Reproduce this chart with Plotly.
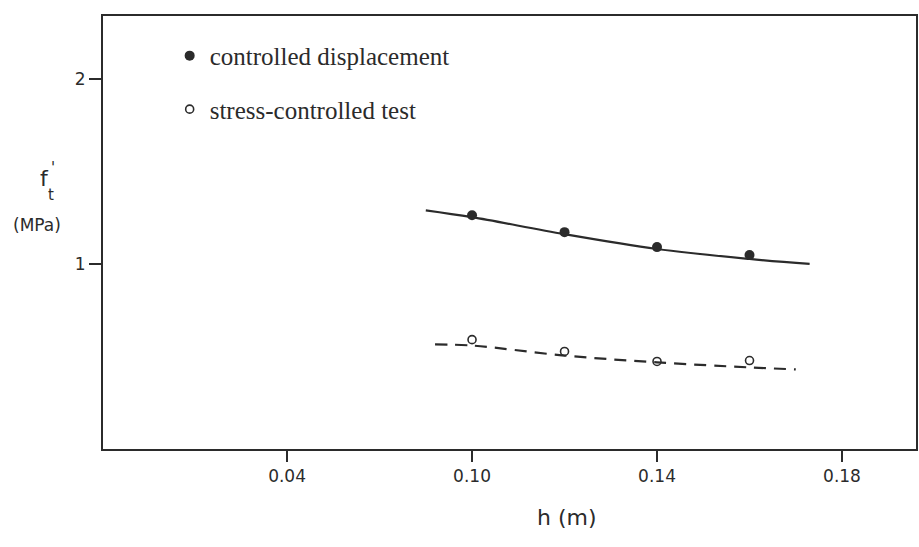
import plotly.graph_objects as go

# measured points
h_pts = [0.10, 0.12, 0.14, 0.16]
ft_displacement = [1.263, 1.172, 1.091, 1.048]
ft_stress = [0.591, 0.527, 0.473, 0.478]

# fitted curves
curve_solid_h = [0.090, 0.100, 0.120, 0.140, 0.160, 0.173]
curve_solid_ft = [1.29, 1.253, 1.161, 1.081, 1.027, 1.0]
curve_dash_h = [0.092, 0.100, 0.120, 0.140, 0.160, 0.170]
curve_dash_ft = [0.565, 0.559, 0.505, 0.468, 0.441, 0.43]

x_tickvals = [0.06, 0.10, 0.14, 0.18]
x_ticktext = ["0.04", "0.10", "0.14", "0.18"]
y_tickvals = [1, 2]
y_ticktext = ["1", "2"]

INK = "#2b2b2b"

fig = go.Figure()
fig.add_trace(go.Scatter(x=curve_solid_h, y=curve_solid_ft, mode="lines",
                         line=dict(color=INK, width=2.2, shape="spline"),
                         showlegend=False, hoverinfo="skip"))
fig.add_trace(go.Scatter(x=curve_dash_h, y=curve_dash_ft, mode="lines",
                         line=dict(color=INK, width=2.2, shape="spline", dash="12px,8px"),
                         showlegend=False, hoverinfo="skip"))
fig.add_trace(go.Scatter(x=h_pts, y=ft_displacement, mode="markers",
                         name="controlled displacement", legendgroup="a",
                         marker=dict(symbol="circle", size=10, color=INK)))
fig.add_trace(go.Scatter(x=h_pts, y=ft_stress, mode="markers",
                         name="stress-controlled test", legendgroup="b",
                         marker=dict(symbol="circle-open", size=8, color=INK,
                                     line=dict(width=1.6, color=INK))))

fig.update_layout(
    width=919, height=547,
    margin=dict(l=103, r=1, t=16, b=98),
    paper_bgcolor="white", plot_bgcolor="white",
    font=dict(family="DejaVu Sans", color=INK),
    showlegend=True,
    legend=dict(x=0.082, y=0.961, xanchor="left", yanchor="top",
                bgcolor="rgba(0,0,0,0)", borderwidth=0,
                font=dict(family="Liberation Serif", size=25, color=INK),
                traceorder="grouped", tracegroupgap=18, itemwidth=30),
    xaxis=dict(range=[0.0202, 0.196], showgrid=False, zeroline=False,
               showline=True, linecolor=INK, linewidth=2, mirror=True,
               ticks="outside", ticklen=11, tickwidth=2, tickcolor=INK,
               tickvals=x_tickvals, ticktext=x_ticktext,
               tickfont=dict(family="DejaVu Sans", size=17, color=INK)),
    yaxis=dict(range=[0.0, 2.34], showgrid=False, zeroline=False,
               showline=True, linecolor=INK, linewidth=2, mirror=True,
               ticks="outside", ticklen=12, tickwidth=2, tickcolor=INK,
               tickvals=y_tickvals, ticktext=y_ticktext,
               tickfont=dict(family="DejaVu Sans", size=17, color=INK)),
)

# y-axis title  f'_t (MPa)
ann_font = dict(family="DejaVu Sans", color=INK)
fig.add_annotation(xref="paper", yref="paper", x=-0.072, y=0.625, text="f",
                   xanchor="center", showarrow=False, font=dict(size=22, **ann_font))
fig.add_annotation(xref="paper", yref="paper", x=-0.062, y=0.65, text="'",
                   xanchor="center", showarrow=False, font=dict(size=15, **ann_font))
fig.add_annotation(xref="paper", yref="paper", x=-0.064, y=0.587, text="t",
                   xanchor="center", showarrow=False, font=dict(size=15, **ann_font))
fig.add_annotation(xref="paper", yref="paper", x=-0.081, y=0.518, text="(MPa)",
                   xanchor="center", showarrow=False, font=dict(size=17, **ann_font))
# x-axis title
fig.add_annotation(xref="paper", yref="paper", x=0.5706, y=-0.192, text="h (m)",
                   xanchor="center", showarrow=False, font=dict(size=22, **ann_font))

fig.write_html("out.html")
